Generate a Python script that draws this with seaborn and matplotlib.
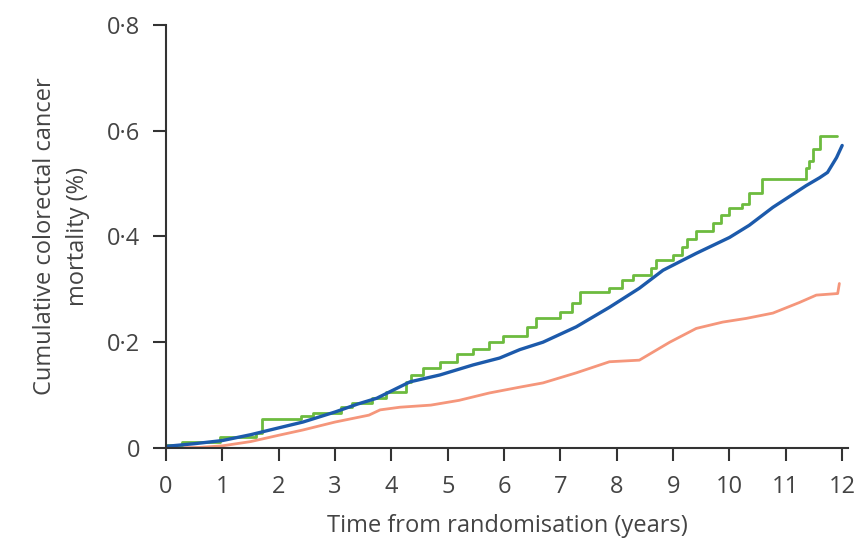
import matplotlib
matplotlib.use("Agg")
import matplotlib.pyplot as plt
import seaborn as sns
import pandas as pd

# green arm (step curve)
green_t = [0, 0.28, 0.96, 1.6, 1.7, 2.4, 2.6, 3.1, 3.3, 3.65, 3.9, 4.25, 4.35, 4.56, 4.86,
           5.16, 5.45, 5.74, 5.98, 6.4, 6.57, 6.99, 7.2, 7.34, 7.87, 8.1, 8.28, 8.6, 8.7,
           9.0, 9.15, 9.25, 9.41, 9.7, 9.85, 10.0, 10.23, 10.35, 10.57, 11.36, 11.42,
           11.48, 11.6, 11.9]
green_v = [0.006, 0.011, 0.021, 0.028, 0.055, 0.06, 0.066, 0.077, 0.085, 0.095, 0.106,
           0.125, 0.138, 0.151, 0.163, 0.177, 0.188, 0.2, 0.211, 0.228, 0.245, 0.257,
           0.275, 0.294, 0.302, 0.317, 0.327, 0.34, 0.355, 0.365, 0.38, 0.396, 0.411,
           0.426, 0.44, 0.453, 0.462, 0.483, 0.509, 0.53, 0.543, 0.566, 0.59, 0.59]

# blue arm
blue_t = [0, 0.5, 1.0, 1.5, 2.0, 2.43, 3.0, 3.4, 3.74, 4.1, 4.33, 4.86, 5.45, 5.92, 6.28,
          6.69, 7.28, 7.87, 8.4, 8.82, 9.41, 10.0, 10.35, 10.77, 11.36, 11.6, 11.74, 11.9, 12.0]
blue_v = [0.003, 0.008, 0.014, 0.025, 0.038, 0.049, 0.068, 0.083, 0.094, 0.113, 0.125,
          0.138, 0.157, 0.17, 0.186, 0.2, 0.229, 0.266, 0.302, 0.336, 0.368, 0.398, 0.421,
          0.455, 0.496, 0.511, 0.521, 0.549, 0.572]

# orange arm
orange_t = [0.0, 0.6, 1.0, 1.5, 2.0, 2.43, 3.0, 3.6, 3.8, 4.15, 4.7, 5.2, 5.74, 6.28, 6.69,
            7.28, 7.87, 8.4, 8.94, 9.41, 9.88, 10.3, 10.77, 11.24, 11.54, 11.92, 11.95]
orange_v = [0.0, 0.001, 0.004, 0.012, 0.024, 0.034, 0.049, 0.062, 0.072, 0.077, 0.081,
            0.09, 0.104, 0.115, 0.123, 0.142, 0.163, 0.166, 0.2, 0.226, 0.238, 0.245,
            0.255, 0.275, 0.289, 0.292, 0.311]

y_ticks = [0, 0.2, 0.4, 0.6, 0.8]
y_labels = ["0", "0·2", "0·4", "0·6", "0·8"]
x_ticks = list(range(13))

sns.set_style("ticks")
plt.rcParams["font.family"] = ["Open Sans", "DejaVu Sans"]
txt = "#444444"

fig = plt.figure(figsize=(8.63, 5.41), dpi=100)
ax = fig.add_axes([0.1924, 0.172, 0.790, 0.782])

sns.lineplot(x="t", y="v", data=pd.DataFrame({"t": orange_t, "v": orange_v}), ax=ax,
             color="#f5967b", lw=2.0, estimator=None)
sns.lineplot(x="t", y="v", data=pd.DataFrame({"t": green_t, "v": green_v}), ax=ax,
             color="#6dbb3f", lw=2.0, estimator=None, drawstyle="steps-post")
sns.lineplot(x="t", y="v", data=pd.DataFrame({"t": blue_t, "v": blue_v}), ax=ax,
             color="#1c5aab", lw=2.4, estimator=None)

ax.set_xlim(0, 12.1)
ax.set_ylim(0, 0.8)
ax.set_yticks(y_ticks)
ax.set_yticklabels(y_labels)
ax.set_xticks(x_ticks)
sns.despine(ax=ax)
for s in ["left", "bottom"]:
    ax.spines[s].set_linewidth(1.5)
    ax.spines[s].set_color("#333333")
ax.tick_params(axis="both", length=9.5, width=1.5, color="#333333", labelsize=17,
               labelcolor=txt)
ax.tick_params(axis="y", pad=9)
ax.tick_params(axis="x", pad=10)
ax.set_xlabel("Time from randomisation (years)", fontsize=17, color=txt, labelpad=11)
ax.set_ylabel("Cumulative colorectal cancer\nmortality (%)", fontsize=17, color=txt,
              labelpad=12, linespacing=1.55)

fig.savefig("out.png", dpi=100)
